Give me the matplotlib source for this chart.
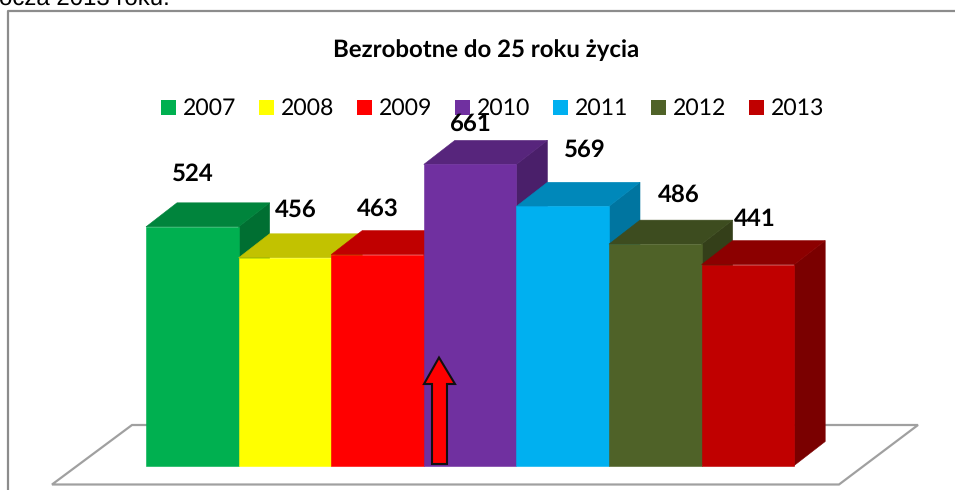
import matplotlib
matplotlib.use('Agg')
from matplotlib import pyplot as plt
from matplotlib.patches import Polygon, Rectangle

years = ['2007', '2008', '2009', '2010', '2011', '2012', '2013']
values = [524, 456, 463, 661, 569, 486, 441]

front_colors = ['#00B050', '#FFFF00', '#FF0000', '#7030A0', '#00B0F0', '#4F6228', '#C00000']
top_colors = ['#00843C', '#C2C200', '#C00000', '#57257C', '#0088BA', '#3D4C1F', '#8C0000']
side_colors = ['#006F32', '#A3A300', '#A00000', '#4A1F6A', '#0075A0', '#343F19', '#7A0000']

# label offsets from the centre of each bar's front top edge (hand placed, Excel did it too)
label_dx = [0.5, 11, 0, 0.5, 22, 23, 7]
label_dy = [-52.5, -47.5, -45.5, -40.5, -56.5, -49, -45.5]

base = 465.5
scale = 0.4555  # pixels per unit
bar_x0 = 146
bar_w = 92.6
dx, dy = 31, -24
frame_col = '#8C8C8C'

plt.rcParams['font.family'] = ['Lato', 'DejaVu Sans']
plt.rcParams['text.hinting'] = 'no_hinting'
plt.rcParams['text.hinting_factor'] = 1

fig = plt.figure(figsize=(9.55, 4.9), dpi=100)
ax = fig.add_axes([0, 0, 1, 1])
ax.set_xlim(0, 955)
ax.set_ylim(490, 0)
ax.axis('off')

# chart frame, runs off the crop on the right and bottom
ax.plot([7.5, 7.5, 955], [490, 11.5, 11.5], color=frame_col, lw=1.6, zorder=1)

# cut off line of the document text above the chart
ax.text(-1, 5, 'ocza 2013 roku.', family=['Liberation Sans'], fontsize=17.5,
        va='baseline', ha='left', color='black')

# floor
ax.add_patch(Polygon([(52, 484.5), (839, 484.5), (918, 425), (132, 425)], closed=True,
                     facecolor='white', edgecolor='#A0A0A0', lw=1.6, zorder=1))

# bars, left to right so each one paints over the side of the one before
for i, v in enumerate(values):
    x0 = bar_x0 + i * bar_w
    x1 = x0 + bar_w
    top = base - v * scale
    z = 2 + i
    ax.add_patch(Polygon([(x1, top), (x1 + dx, top + dy), (x1 + dx, base + dy), (x1, base)],
                         closed=True, facecolor=side_colors[i], edgecolor=side_colors[i], lw=0.4, zorder=z))
    ax.add_patch(Polygon([(x0, top), (x0 + dx, top + dy), (x1 + dx, top + dy), (x1, top)],
                         closed=True, facecolor=top_colors[i], edgecolor=top_colors[i], lw=0.4, zorder=z))
    ax.add_patch(Rectangle((x0, top), bar_w, v * scale, facecolor=front_colors[i],
                           edgecolor=front_colors[i], lw=0.4, zorder=z))
    ax.text(x0 + bar_w / 2 + label_dx[i], top + label_dy[i], str(v), fontsize=17.5,
            fontweight='bold', ha='center', va='center', color='black', zorder=20)

# title
ax.text(486, 50.5, 'Bezrobotne do 25 roku życia', fontsize=17.3, fontweight='bold',
        ha='center', va='center', color='black', zorder=20)

# legend
for i, y in enumerate(years):
    lx = 161 + i * 98
    ax.add_patch(Rectangle((lx, 100), 15, 15, facecolor=front_colors[i], edgecolor='none', zorder=15))
    ax.text(lx + 22, 108.5, y, fontsize=16.5, ha='left', va='center', color='black', zorder=16)

# red arrow pasted on top of the chart
arrow = [(439, 357.5), (455, 384), (447, 384), (447, 464), (432, 464), (432, 384), (424, 384)]
ax.add_patch(Polygon(arrow, closed=True, facecolor='#FF0000', edgecolor='#101010', lw=1.5,
                     joinstyle='miter', zorder=18))

fig.savefig('out.png', dpi=100)
